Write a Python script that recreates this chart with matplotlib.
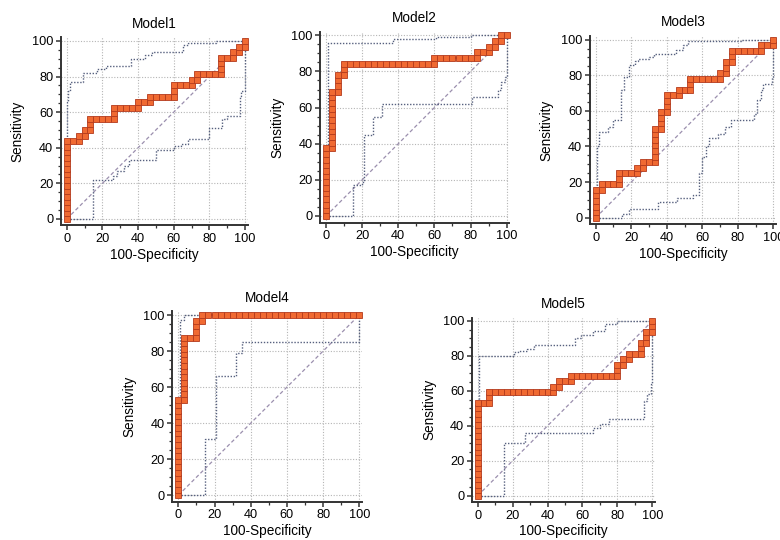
"""
ROC curves of five models (MedCalc style), 2 rows: 3 + 2 panels
"""

import matplotlib
matplotlib.use("Agg")
import matplotlib.pyplot as plt
from matplotlib.ticker import MultipleLocator

plt.rcParams['font.family'] = ['Liberation Sans', 'DejaVu Sans']

# data: (false positives, true positives) counts, 30 negatives / 32 positives
n_neg = 30
n_pos = 32

m1_pts = [(0, 0), (0, 1), (0, 2), (0, 3), (0, 4), (0, 5), (0, 6), (0, 7), (0, 8), (0, 9), (0, 10),
          (0, 11), (0, 12), (0, 13), (0, 14), (1, 14), (2, 14), (2, 15), (3, 15), (3, 16), (4, 16),
          (4, 17), (4, 18), (5, 18), (6, 18), (7, 18), (8, 18), (8, 19), (8, 20), (9, 20), (10, 20),
          (11, 20), (12, 20), (12, 21), (13, 21), (14, 21), (14, 22), (15, 22), (16, 22), (17, 22),
          (18, 22), (18, 23), (18, 24), (19, 24), (20, 24), (21, 24), (21, 25), (22, 25), (22, 26),
          (23, 26), (24, 26), (25, 26), (26, 26), (26, 27), (26, 28), (26, 29), (27, 29), (28, 29),
          (28, 30), (29, 30), (29, 31), (30, 31), (30, 32)]

m2_pts = [(0, 0), (0, 1), (0, 2), (0, 3), (0, 4), (0, 5), (0, 6), (0, 7), (0, 8), (0, 9), (0, 10),
          (0, 11), (0, 12), (1, 12), (1, 13), (1, 14), (1, 15), (1, 16), (1, 17), (1, 18), (1, 19),
          (1, 20), (1, 21), (1, 22), (2, 22), (2, 23), (2, 24), (2, 25), (3, 25), (3, 26), (3, 27),
          (4, 27), (5, 27), (6, 27), (7, 27), (8, 27), (9, 27), (10, 27), (11, 27), (12, 27), (13, 27),
          (14, 27), (15, 27), (16, 27), (17, 27), (18, 27), (18, 28), (19, 28), (20, 28), (21, 28),
          (22, 28), (23, 28), (24, 28), (25, 28), (25, 29), (26, 29), (27, 29), (27, 30), (28, 30),
          (28, 31), (29, 31), (29, 32), (30, 32)]

m3_pts = [(0, 0), (0, 1), (0, 2), (0, 3), (0, 4), (0, 5), (1, 5), (1, 6), (2, 6), (3, 6), (4, 6),
          (4, 7), (4, 8), (5, 8), (6, 8), (7, 8), (7, 9), (8, 9), (8, 10), (9, 10), (10, 10), (10, 11),
          (10, 12), (10, 13), (10, 14), (10, 15), (10, 16), (11, 16), (11, 17), (11, 18), (11, 19),
          (12, 19), (12, 20), (12, 21), (12, 22), (13, 22), (14, 22), (14, 23), (15, 23), (16, 23),
          (16, 24), (16, 25), (17, 25), (18, 25), (19, 25), (20, 25), (21, 25), (21, 26), (22, 26),
          (22, 27), (22, 28), (23, 28), (23, 29), (23, 30), (24, 30), (25, 30), (26, 30), (27, 30),
          (28, 30), (28, 31), (29, 31), (30, 31), (30, 32)]

m4_pts = [(0, 0), (0, 1), (0, 2), (0, 3), (0, 4), (0, 5), (0, 6), (0, 7), (0, 8), (0, 9), (0, 10),
          (0, 11), (0, 12), (0, 13), (0, 14), (0, 15), (0, 16), (0, 17), (1, 17), (1, 18), (1, 19),
          (1, 20), (1, 21), (1, 22), (1, 23), (1, 24), (1, 25), (1, 26), (1, 27), (1, 28), (2, 28),
          (3, 28), (3, 29), (3, 30), (3, 31), (4, 31), (4, 32), (5, 32), (6, 32), (7, 32), (8, 32),
          (9, 32), (10, 32), (11, 32), (12, 32), (13, 32), (14, 32), (15, 32), (16, 32), (17, 32),
          (18, 32), (19, 32), (20, 32), (21, 32), (22, 32), (23, 32), (24, 32), (25, 32), (26, 32),
          (27, 32), (28, 32), (29, 32), (30, 32)]

m5_pts = [(0, 0), (0, 1), (0, 2), (0, 3), (0, 4), (0, 5), (0, 6), (0, 7), (0, 8), (0, 9), (0, 10),
          (0, 11), (0, 12), (0, 13), (0, 14), (0, 15), (0, 16), (0, 17), (1, 17), (2, 17), (2, 18),
          (2, 19), (3, 19), (4, 19), (5, 19), (6, 19), (7, 19), (8, 19), (9, 19), (10, 19), (11, 19),
          (12, 19), (13, 19), (13, 20), (14, 20), (14, 21), (15, 21), (16, 21), (16, 22), (17, 22),
          (18, 22), (19, 22), (20, 22), (21, 22), (22, 22), (23, 22), (24, 22), (24, 23), (24, 24),
          (25, 24), (25, 25), (26, 25), (26, 26), (27, 26), (28, 26), (28, 27), (28, 28), (29, 28),
          (29, 29), (29, 30), (30, 30), (30, 31), (30, 32)]

# 95% confidence bounds (step vertices, in %)
m1_up_x = [0, 0, 1, 2, 9, 17, 22, 36, 44, 48, 65, 68, 84, 100]
m1_up_y = [0, 66, 72, 77, 82, 84, 86, 90, 92, 94, 98, 99, 100, 100]
m1_lo_x = [0, 15, 26, 28, 32, 35, 50, 60, 64, 68, 80, 87, 90, 97, 98, 100]
m1_lo_y = [0, 22, 24, 27, 30, 33, 39, 41, 42, 45, 51, 56, 58, 69, 72, 100]

m2_up_x = [0, 1, 37, 61, 80, 100]
m2_up_y = [0, 96, 98, 99, 100, 100]
m2_lo_x = [0, 15, 20, 21, 26, 31, 81, 95, 97, 99, 100]
m2_lo_y = [0, 17, 19, 45, 55, 62, 66, 70, 74, 77, 100]

m3_up_x = [0, 1, 2, 7, 10, 14, 16, 19, 22, 24, 30, 33, 45, 49, 52, 82, 100]
m3_up_y = [0, 40, 48, 51, 55, 72, 79, 86, 88, 89, 90, 92, 94, 97, 99, 100, 100]
m3_lo_x = [0, 15, 19, 35, 46, 55, 58, 60, 62, 64, 69, 73, 76, 89, 91, 93, 94, 99, 100]
m3_lo_y = [0, 2, 5, 9, 11, 13, 25, 34, 40, 45, 47, 51, 55, 58, 66, 72, 75, 79, 100]

m4_up_x = [0, 1, 3, 100]
m4_up_y = [0, 97, 100, 100]
m4_lo_x = [0, 15, 21, 32, 35, 100]
m4_lo_y = [0, 31, 66, 79, 85, 100]

m5_up_x = [0, 1, 21, 23, 28, 32, 56, 59, 66, 73, 80, 100]
m5_up_y = [0, 80, 82, 83, 84, 86, 90, 92, 94, 98, 100, 100]
m5_lo_x = [0, 15, 27, 66, 70, 75, 95, 97, 99, 100]
m5_lo_y = [0, 30, 36, 39, 41, 44, 54, 58, 64, 100]

titles = ['Model1', 'Model2', 'Model3', 'Model4', 'Model5']

# pixel calibration of each panel: x=0, x=100, y=100, y=0
panel_px = [(66.7, 245.0, 41.0, 219.0),
            (326.0, 506.7, 35.3, 216.0),
            (595.7, 773.3, 39.7, 217.7),
            (178.3, 359.3, 315.0, 495.3),
            (477.7, 652.3, 321.0, 495.7)]

W, H = 780, 540
XMIN, XMAX = -3.3, 101.5
YMIN, YMAX = -3.6, 102.0

fig = plt.figure(figsize=(W / 100, H / 100), dpi=100)


def draw_panel(px, title, pts, up_x, up_y, lo_x, lo_y):
    x0, x100, y100, y0 = px
    sx = (x100 - x0) / 100.0
    sy = (y0 - y100) / 100.0
    left = x0 + XMIN * sx
    right = x0 + XMAX * sx
    top = y0 - YMAX * sy
    bottom = y0 - YMIN * sy
    ax = fig.add_axes([left / W, 1 - bottom / H, (right - left) / W, (bottom - top) / H])
    ax.set_xlim(XMIN, XMAX)
    ax.set_ylim(YMIN, YMAX)

    # grid
    for v in range(0, 101, 20):
        ax.axvline(v, color='#b5b5b5', lw=0.8, ls=(0, (1, 1.5)), zorder=0)
        ax.axhline(v, color='#b5b5b5', lw=0.8, ls=(0, (1, 1.5)), zorder=0)

    # diagonal
    ax.plot([0, 100], [0, 100], color='#9b8fae', lw=0.9, ls=(0, (3, 2)), zorder=1)

    # confidence bounds
    ax.plot(up_x, up_y, drawstyle='steps-post', color='#56607e', lw=1.0, ls=(0, (1, 1.2)), zorder=2)
    ax.plot(lo_x, lo_y, drawstyle='steps-post', color='#56607e', lw=1.0, ls=(0, (1, 1.2)), zorder=2)

    fp = [p[0] * 100.0 / n_neg for p in pts]
    tp = [p[1] * 100.0 / n_pos for p in pts]
    ax.plot(fp, tp, color='#d8482a', lw=1.6, marker='s', ms=3.8,
            mfc='#f06a32', mec='#b33a1c', mew=0.6, zorder=3, clip_on=False)

    for s in ['top', 'right']:
        ax.spines[s].set_visible(False)
    for s in ['left', 'bottom']:
        ax.spines[s].set_linewidth(1.4)
        ax.spines[s].set_color('#333333')

    ax.xaxis.set_major_locator(MultipleLocator(20))
    ax.xaxis.set_minor_locator(MultipleLocator(10))
    ax.yaxis.set_major_locator(MultipleLocator(20))
    ax.yaxis.set_minor_locator(MultipleLocator(5))
    ax.tick_params(which='major', direction='out', length=3.5, width=1.1, color='#333333',
                   labelsize=9.2, pad=2)
    ax.tick_params(which='minor', direction='out', length=2.2, width=0.9, color='#333333')

    ax.set_title(title, fontsize=9.8, pad=7)
    ax.set_xlabel('100-Specificity', fontsize=9.8, labelpad=2)
    ax.set_ylabel('Sensitivity', fontsize=9.8, labelpad=5)
    return ax


draw_panel(panel_px[0], titles[0], m1_pts, m1_up_x, m1_up_y, m1_lo_x, m1_lo_y)
draw_panel(panel_px[1], titles[1], m2_pts, m2_up_x, m2_up_y, m2_lo_x, m2_lo_y)
draw_panel(panel_px[2], titles[2], m3_pts, m3_up_x, m3_up_y, m3_lo_x, m3_lo_y)
draw_panel(panel_px[3], titles[3], m4_pts, m4_up_x, m4_up_y, m4_lo_x, m4_lo_y)
draw_panel(panel_px[4], titles[4], m5_pts, m5_up_x, m5_up_y, m5_lo_x, m5_lo_y)

fig.savefig('out.png', dpi=100)
